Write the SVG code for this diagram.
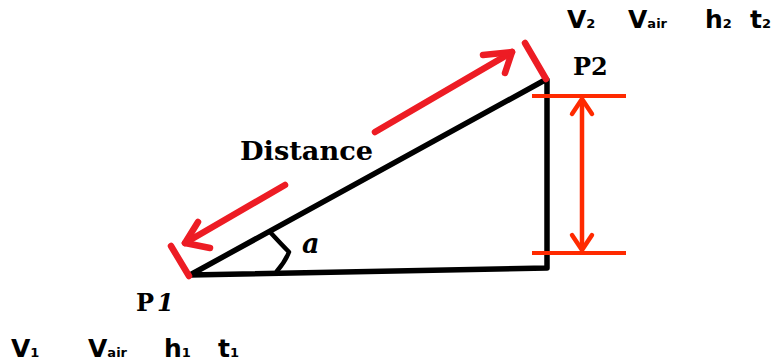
<svg xmlns="http://www.w3.org/2000/svg" width="779" height="362" viewBox="0 0 779 362">
<style>
.blk{stroke:#000;stroke-width:5.5;fill:none;stroke-linecap:round;stroke-linejoin:round}
.ang{stroke:#000;stroke-width:4.5;fill:none;stroke-linecap:round;stroke-linejoin:round}
.red{stroke:#ED1C24;stroke-width:6.5;fill:none;stroke-linecap:round;stroke-linejoin:round}
.dim{stroke:#FF2A00;stroke-width:4;fill:none}
.dimh{stroke:#FF2A00;stroke-width:4.5;fill:none;stroke-linecap:round;stroke-linejoin:round}
.lbl{font-family:"DejaVu Serif","Liberation Serif",serif;font-weight:bold;fill:#000}
.var{font-family:"DejaVu Sans","Liberation Sans",sans-serif;font-weight:bold;fill:#000;font-size:25px}
.sub{font-size:13px}
</style>
<rect width="779" height="362" fill="#fff"/>
<g id="triangle">
<polyline class="blk" points="545,80 190,275 547,268 547,80"/>
<path id="angle" class="ang" d="M270,232 Q282,245 289,252 Q285,262 277,271"/>
</g>
<g id="connectors">
<line class="red" x1="171" y1="246" x2="189" y2="276"/>
<line class="red" x1="525" y1="43" x2="546" y2="79"/>
<line class="red" x1="375" y1="132" x2="512" y2="52"/>
<polyline class="red" points="483,55 512,52 505,73"/>
<line class="red" x1="285" y1="185" x2="185" y2="243"/>
<polyline class="red" points="198,222 185,243 210,248"/>
<line class="dim" x1="532" y1="96" x2="626" y2="96"/>
<line class="dim" x1="532" y1="253" x2="626" y2="253"/>
<line class="dimh" x1="582" y1="100" x2="582" y2="249"/>
<polyline class="dimh" points="572,114 582,99 592,114"/>
<polyline class="dimh" points="572,235 582,250 592,235"/>
</g>
<g id="labels">
<text class="lbl" x="240" y="160" font-size="26" textLength="133" lengthAdjust="spacingAndGlyphs">Distance</text>
<text class="lbl" x="573" y="75" font-size="24">P2</text>
<text class="lbl" x="136" y="311" font-size="24">P<tspan dx="3" font-style="italic">1</tspan></text>
<text class="lbl" x="302" y="253" font-size="27" font-style="italic">a</text>
</g>
<g id="vars-p1">
<text class="var" x="11" y="357">V<tspan class="sub">1</tspan></text>
<text class="var" x="88" y="357">V<tspan class="sub">air</tspan></text>
<text class="var" x="164" y="357">h<tspan class="sub">1</tspan></text>
<text class="var" x="218" y="357">t<tspan class="sub">1</tspan></text>
</g>
<g id="vars-p2">
<text class="var" x="567" y="28">V<tspan class="sub">2</tspan></text>
<text class="var" x="628" y="28">V<tspan class="sub">air</tspan></text>
<text class="var" x="705" y="28">h<tspan class="sub">2</tspan></text>
<text class="var" x="750" y="28">t<tspan class="sub">2</tspan></text>
</g>
</svg>
